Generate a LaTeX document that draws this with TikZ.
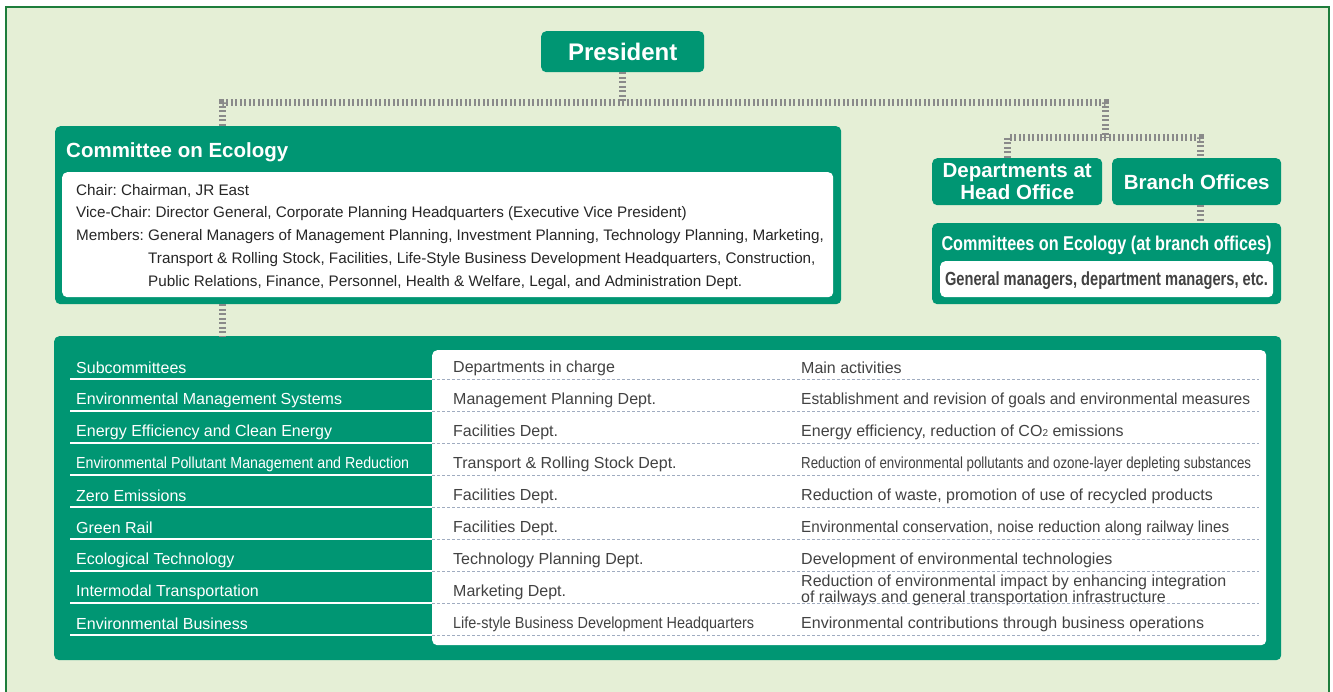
\documentclass[tikz,border=0pt]{standalone}
\usepackage{fontspec}
\setmainfont{Liberation Sans}
\usepackage{graphicx}
\usetikzlibrary{positioning}
\frenchspacing

\definecolor{ecogreen}{RGB}{0,150,115}
\definecolor{paper}{RGB}{229,239,214}
\definecolor{framegreen}{RGB}{30,125,60}
\definecolor{linkgray}{RGB}{138,138,138}
\definecolor{rulegray}{RGB}{160,172,192}
\definecolor{txtgray}{RGB}{66,66,66}

% squeeze a text to a given width, height unchanged
\newcommand{\squeeze}[2]{\resizebox{#1}{\height}{#2}}

\begin{document}
\begin{tikzpicture}[x=1pt,y=-1pt]
\tikzstyle{every node}+=[inner sep=0pt]
\tikzstyle{greenbox}=[fill=ecogreen, rounded corners=5pt, anchor=north west]
\tikzstyle{whitebox}=[fill=white, rounded corners=5pt, anchor=north west]
\tikzstyle{title}=[text=white, font=\bfseries\fontsize{20.5}{22}\selectfont]
\tikzstyle{link}=[draw=linkgray, line width=7pt, dash pattern=on 2pt off 2.5pt]
\tikzstyle{memo}=[anchor=west, text=black!85, font=\fontsize{15.25}{18}\selectfont]
\tikzstyle{cell}=[anchor=west, text=txtgray, font=\fontsize{16}{18}\selectfont]
\tikzstyle{subc}=[anchor=west, text=white, font=\fontsize{16}{18}\selectfont]
\useasboundingbox (0,0) rectangle (1333,692);
\clip (0,0) rectangle (1333,692);
\draw [framegreen, line width=2pt, fill=paper] (6,7) rectangle (1329,720);

% top of the tree
\node [greenbox, title, minimum width=163pt, minimum height=41pt, font=\bfseries\fontsize{24}{24}\selectfont] (pres) at (541,31) {President};

\node [greenbox, minimum width=786pt, minimum height=178pt] (coe) at (55,126) {};
\node [title, anchor=west] (coeT) at (66,152) {Committee on Ecology};
\node [whitebox, minimum width=771pt, minimum height=125pt] (coeW) at (62,172) {};
\node [memo] (chair) at (76,191) {Chair: Chairman, JR East};
\node [memo] (vice) at (76,214) {Vice-Chair: Director General, Corporate Planning Headquarters (Executive Vice President)};
\node [memo] (mem1) at (76,237) {Members: General Managers of Management Planning, Investment Planning, Technology Planning, Marketing,};
\node [memo] (mem2) at (148,260) {Transport \& Rolling Stock, Facilities, Life-Style Business Development Headquarters, Construction,};
\node [memo] (mem3) at (148,283) {Public Relations, Finance, Personnel, Health \& Welfare, Legal, and Administration Dept.};

\node [greenbox, title, align=center, minimum width=170pt, minimum height=47pt] (dept) at (932,158) {Departments at\\Head Office};
\node [greenbox, title, minimum width=169pt, minimum height=47pt] (branch) at (1112,158) {Branch Offices};

\node [greenbox, minimum width=349pt, minimum height=81pt] (bcoe) at (932,223) {};
\node [text=white, font=\bfseries\fontsize{20}{22}\selectfont] (bcoeT) at (1106.5,245) {\squeeze{330pt}{Committees on Ecology (at branch offices)}};
\node [whitebox, minimum width=333pt, minimum height=36pt] (bcoeW) at (940,261) {};
\node [text=txtgray, font=\bfseries\fontsize{19}{22}\selectfont] (bcoeM) at (1106.5,281) {\squeeze{323pt}{General managers, department managers, etc.}};

% subcommittee table
\node [greenbox, minimum width=1227pt, minimum height=324pt] (tbl) at (54,336) {};
\node [whitebox, minimum width=834pt, minimum height=295pt] (tblW) at (432,350) {};
\foreach \k in {0,...,8} {
  \draw [white, line width=1.4pt] (70,{379+32*\k}) -- (432,{379+32*\k});
  \draw [rulegray, line width=0.7pt, dash pattern=on 3pt off 2pt] (432,{379+32*\k}) -- (1259,{379+32*\k});
}

% connectors
\coordinate (coeTap) at (222,126);
\coordinate (busR) at (1105,103);
\coordinate (splitR) at (1105,138);
\coordinate (deptTap) at (1007,158);
\coordinate (branchTap) at (1200,158);
\draw [link] (pres.south) -- (pres.south |- busR);
\draw [link] (coeTap) |- (busR) -- (splitR);
\draw [link] (deptTap) |- (splitR) -| (branchTap);
\draw [link] (branch.south -| branchTap) -- (bcoe.north -| branchTap);
\draw [link] (coe.south -| coeTap) -- (tbl.north -| coeTap);

\node [subc] (s1) at (76,368) {Subcommittees};
\node [cell] (d1) at (453,368) {Departments in charge};
\node [cell] (a1) at (801,368) {Main activities};

\node [subc] (s2) at (76,400) {Environmental Management Systems};
\node [cell] (d2) at (453,400) {Management Planning Dept.};
\node [cell] (a2) at (801,400) {\squeeze{449pt}{Establishment and revision of goals and environmental measures}};

\node [subc] (s3) at (76,432) {Energy Efficiency and Clean Energy};
\node [cell] (d3) at (453,432) {Facilities Dept.};
\node [cell] (a3) at (801,432) {Energy efficiency, reduction of CO{\fontsize{10}{10}\selectfont 2} emissions};

\node [subc] (s4) at (76,464) {\squeeze{333pt}{Environmental Pollutant Management and Reduction}};
\node [cell] (d4) at (453,464) {Transport \& Rolling Stock Dept.};
\node [cell] (a4) at (801,464) {\squeeze{450pt}{Reduction of environmental pollutants and ozone-layer depleting substances}};

\node [subc] (s5) at (76,496) {Zero Emissions};
\node [cell] (d5) at (453,496) {Facilities Dept.};
\node [cell] (a5) at (801,496) {Reduction of waste, promotion of use of recycled products};

\node [subc] (s6) at (76,528) {Green Rail};
\node [cell] (d6) at (453,528) {Facilities Dept.};
\node [cell] (a6) at (801,528) {\squeeze{428pt}{Environmental conservation, noise reduction along railway lines}};

\node [subc] (s7) at (76,560) {Ecological Technology};
\node [cell] (d7) at (453,560) {Technology Planning Dept.};
\node [cell] (a7) at (801,560) {Development of environmental technologies};

\node [subc] (s8) at (76,592) {Intermodal Transportation};
\node [cell] (d8) at (453,592) {Marketing Dept.};
\node [cell, align=left, font=\fontsize{16}{13}\selectfont] (a8) at (801,590) {Reduction of environmental impact by enhancing integration\\of railways and general transportation infrastructure};

\node [subc] (s9) at (76,624) {Environmental Business};
\node [cell] (d9) at (453,624) {\squeeze{301pt}{Life-style Business Development Headquarters}};
\node [cell] (a9) at (801,624) {Environmental contributions through business operations};
\end{tikzpicture}
\end{document}
